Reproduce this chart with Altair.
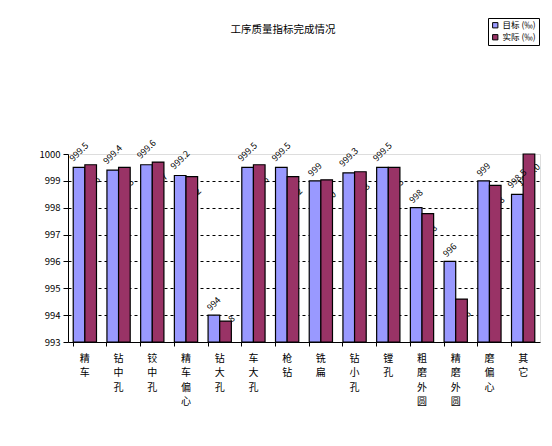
import altair as alt
import pandas as pd

categories = ["精车", "钻中孔", "铰中孔", "精车偏心", "钻大孔", "车大孔", "枪钻",
              "铣扁", "钻小孔", "镗孔", "粗磨外圆", "精磨外圆", "磨偏心", "其它"]
target = [999.5, 999.4, 999.6, 999.2, 994.0, 999.5, 999.5,
          999.0, 999.3, 999.5, 998.0, 996.0, 999.0, 998.5]
actual = [999.6, 999.5, 999.7, 999.16, 993.78, 999.6, 999.16,
          999.04, 999.34, 999.5, 997.78, 994.6, 998.83, 1000.0]
series = ["目标 (‰)", "实际 (‰)"]
colors = ["#9999FF", "#993366"]
y_ticks = [993, 994, 995, 996, 997, 998, 999, 1000]
title_text = "工序质量指标完成情况"

FONT = "Noto Sans CJK SC"

rows = []
for c, t, a in zip(categories, target, actual):
    rows.append({"category": c, "series": series[0], "value": t})
    rows.append({"category": c, "series": series[1], "value": a})
df = pd.DataFrame(rows)

PX_PER_UNIT = 188 / 7.0

yscale = alt.Scale(domain=[993, 1000], nice=False, zero=False)


def y_axis():
    return alt.Axis(values=y_ticks, title=None, labelFont=FONT, format="d",
                    labelFontSize=9.5, labelColor="black",
                    domainColor="black", tickColor="black", tickSize=5,
                    labelPadding=3, gridColor="black", gridDash=[3, 3],
                    gridOpacity={"condition": {"test": "datum.value >= 1000 || datum.value <= 993",
                                               "value": 0}, "value": 1})


x_enc = alt.X(
    "category:N", sort=categories,
    scale=alt.Scale(paddingInner=0.31, paddingOuter=0.155),
    axis=alt.Axis(title=None, labelAngle=0, labelExpr="split(datum.label, '')",
                  labelFont=FONT, labelFontSize=10, labelLineHeight=14.5,
                  labelPadding=7, labelColor="black", domainColor="black",
                  tickColor="black", tickSize=4, bandPosition=0, grid=False),
)
xoff = alt.XOffset("series:N", sort=series,
                   scale=alt.Scale(paddingInner=0, paddingOuter=0))

base = alt.Chart(df).encode(x=x_enc, xOffset=xoff)

bars = base.mark_bar(stroke="black", strokeWidth=1.2).encode(
    y=alt.Y("value:Q", scale=yscale, axis=y_axis()),
    y2=alt.Y2Datum(993),
    color=alt.Color("series:N", sort=series,
                    scale=alt.Scale(domain=series, range=colors),
                    legend=alt.Legend(title=None, orient="none", legendX=420,
                                      legendY=-136, strokeColor="black",
                                      padding=3, symbolType="square",
                                      symbolSize=28, symbolStrokeColor="black",
                                      symbolStrokeWidth=1, labelFont=FONT,
                                      labelFontSize=8.5, rowPadding=2,
                                      labelOffset=3, fillColor="white")),
)

target_labels = base.transform_filter(
    alt.datum.series == series[0]
).transform_calculate(
    label="format(datum.value, '.1~f')"
).transform_calculate(
    ly=f"datum.value + (5 + 2.1 * length(datum.label)) / {PX_PER_UNIT}"
).mark_text(font=FONT, fontSize=9, align="center", angle=315,
            baseline="middle", color="black").encode(
    y=alt.Y("ly:Q", scale=yscale, axis=y_axis()),
    text="label:N",
)

actual_labels = base.transform_filter(
    alt.datum.series == series[1]
).transform_calculate(
    label="format(datum.value, '.1f')",
    ly=f"max(datum.value - 21 / {PX_PER_UNIT}, 993 + 17 / {PX_PER_UNIT})"
).mark_text(font=FONT, fontSize=9, align="center", angle=315,
            baseline="middle", color="black").encode(
    y=alt.Y("ly:Q", scale=yscale, axis=y_axis()),
    text="label:N",
)

chart = alt.layer(actual_labels, bars, target_labels).properties(
    width=472, height=188,
    autosize=alt.AutoSizeParams(type="none"),
    padding={"left": 60, "top": 146, "right": 4, "bottom": 90},
    title=alt.TitleParams(title_text, font=FONT, fontSize=10.5,
                          fontWeight="normal", anchor="middle", dx=-21,
                          offset=0, dy=18, color="black"),
).configure_view(stroke="#808080", strokeWidth=1).configure(background="white")

chart.save("out.html", embed_options={"renderer": "svg", "actions": False})
